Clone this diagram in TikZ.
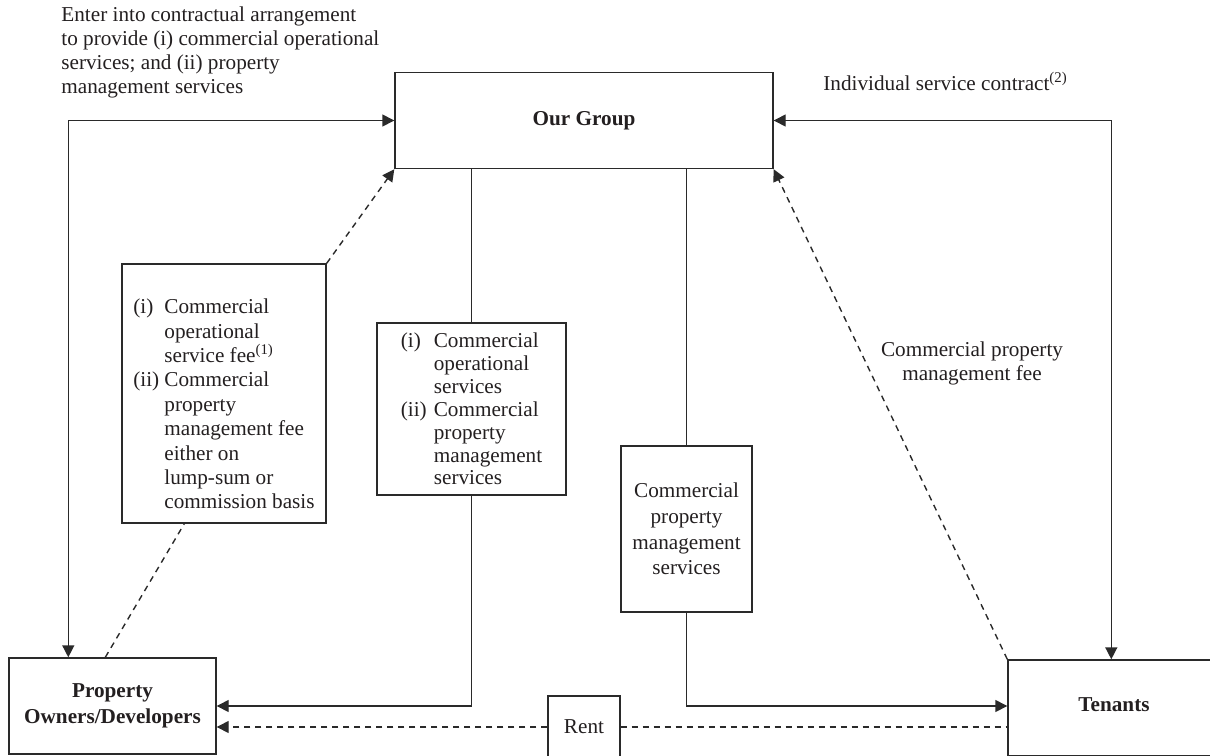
\documentclass[tikz,border=0pt]{standalone}
\usepackage{fontspec}
\setmainfont{Liberation Serif}
\usetikzlibrary{arrows.meta,calc}
\definecolor{ln}{HTML}{2A2A2A}
\definecolor{tx}{HTML}{231F20}
\begin{document}
\begin{tikzpicture}[x=0.5pt,y=-0.5pt,
  every node/.style={text=tx},
  box/.style={draw=ln, line width=0.7pt, inner sep=0pt, fill=none},
  conn/.style={draw=ln, line width=0.7pt},
  arr/.style={conn, -{Triangle[length=6pt,width=6pt]}},
  both/.style={conn, {Triangle[length=6pt,width=6pt]}-{Triangle[length=6pt,width=6pt]}},
  dsh/.style={dash pattern=on 3pt off 2.5pt},
  lbl/.style={inner sep=0pt, align=left},
]
\useasboundingbox (0,0) rectangle (1210,755);
\clip (0,0) rectangle (1210,755);

% main boxes
\node[box, minimum width=189pt, minimum height=48pt, font={\fontsize{10.6pt}{12pt}\selectfont\bfseries}] (group) at (584,120.5) {Our Group};
\node[box, minimum width=103.5pt, minimum height=48pt, align=center, font={\fontsize{10.6pt}{13pt}\selectfont\bfseries}] (owners) at (112.5,706) {Property\\Owners/Developers};
\node[box, minimum width=106pt, minimum height=48pt, text height=7pt, text depth=3.3pt, font={\fontsize{10.6pt}{12pt}\selectfont\bfseries}] (tenants) at (1114,708) {Tenants};
\node[box, minimum width=36pt, minimum height=31pt, font={\fontsize{10.6pt}{12pt}\selectfont}] (rent) at (584,727) {Rent};

% fee box (left)
\node[box, minimum width=102pt, minimum height=129.5pt] (fee) at (224,393.5) {};
\node[lbl, anchor=west, font={\fontsize{10.6pt}{12.2pt}\selectfont}] (feetext) at (133,404) {%
\makebox[15.5pt][l]{(i)}Commercial\\
\hspace*{15.5pt}operational\\
\hspace*{15.5pt}service fee\textsuperscript{(1)}\\
\makebox[15.5pt][l]{(ii)}Commercial\\
\hspace*{15.5pt}property\\
\hspace*{15.5pt}management fee\\
\hspace*{15.5pt}either on\\
\hspace*{15.5pt}lump-sum or\\
\hspace*{15.5pt}commission basis};

% middle boxes
\node[box, minimum width=94.5pt, minimum height=86pt, align=left, font={\fontsize{10.6pt}{11.45pt}\selectfont}] (mid1) at (471.5,409) {%
\makebox[16.5pt][l]{(i)}Commercial\\
\hspace*{16.5pt}operational\\
\hspace*{16.5pt}services\\
\makebox[16.5pt][l]{(ii)}Commercial\\
\hspace*{16.5pt}property\\
\hspace*{16.5pt}management\\
\hspace*{16.5pt}services};
\node[box, minimum width=65.5pt, minimum height=83pt, align=center, font={\fontsize{10.6pt}{12.9pt}\selectfont}] (mid2) at (686.5,529) {Commercial\\property\\management\\services};

% free labels
\node[lbl, anchor=west, font={\fontsize{10.6pt}{11.85pt}\selectfont}] (toplabel) at (61,52.4) {Enter into contractual arrangement\\to provide (i) commercial operational\\services; and (ii) property\\management services};
\node[lbl, anchor=base west, font={\fontsize{10.6pt}{12pt}\selectfont}] (rightlabel) at (823,90.7) {Individual service contract\textsuperscript{(2)}};
\node[lbl, align=center, font={\fontsize{10.6pt}{12pt}\selectfont}] (feelabel) at (972,363) {Commercial property\\management fee};

% connectors
\draw[both] (group.west) -| ($(owners.north west)+(60,0)$);
\draw[both] (group.east) -| ($(tenants.north west)+(104,0)$);
\draw[arr,dsh] (fee.north east) -- (group.south west);
\draw[conn,dsh] ($(owners.north west)+(97,0)$) -- ($(fee.south west)+(63,0)$);
\draw[arr,dsh] (tenants.north west) -- (group.south east);
\draw[conn] (mid1.north |- group.south) -- (mid1.north);
\draw[arr] (mid1.south) |- (owners.east);
\draw[conn] (mid2.north |- group.south) -- (mid2.north);
\draw[arr] (mid2.south) |- (tenants.west |- owners.east);
\draw[arr,dsh] (rent.west) -- (owners.east |- rent.west);
\draw[conn,dsh] (rent.east) -- (tenants.west |- rent.east);
\end{tikzpicture}
\end{document}
